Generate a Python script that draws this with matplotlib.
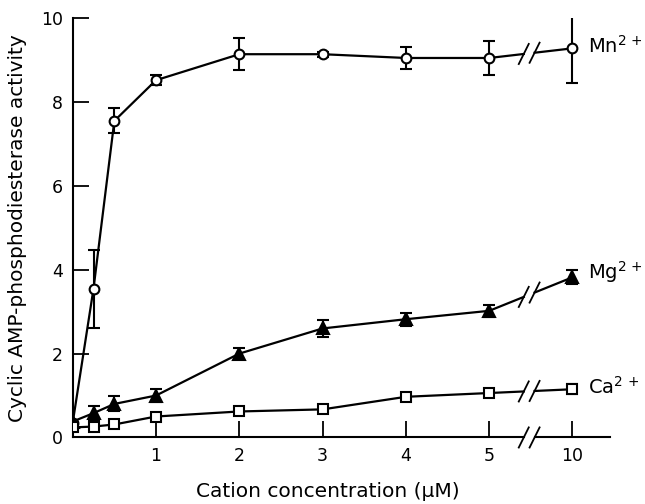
import matplotlib
matplotlib.use("Agg")
import matplotlib.pyplot as plt
import numpy as np

plt.rcParams['font.family'] = ['DejaVu Sans']
plt.rcParams['mathtext.fontset'] = 'dejavusans'

# Concentrations (uM); 10 is drawn after an axis break
conc = [0, 0.25, 0.5, 1, 2, 3, 4, 5, 10]
tick_labels = ["1", "2", "3", "4", "5", "10"]
tick_values = [1, 2, 3, 4, 5, 10]

mn_mean = [0.35, 3.55, 7.55, 8.52, 9.14, 9.14, 9.05, 9.05, 9.28]
mn_err = [0.0, 0.93, 0.30, 0.12, 0.38, 0.06, 0.27, 0.40, 0.82]

mg_mean = [0.38, 0.58, 0.80, 1.00, 2.00, 2.60, 2.82, 3.02, 3.82]
mg_err = [0.0, 0.18, 0.18, 0.16, 0.14, 0.21, 0.15, 0.15, 0.17]

ca_mean = [0.24, 0.26, 0.31, 0.50, 0.62, 0.67, 0.97, 1.06, 1.15]
ca_err = [0.0, 0.0, 0.0, 0.0, 0.0, 0.0, 0.10, 0.08, 0.12]

yticks = [0, 2, 4, 6, 8, 10]


def pos(c):
    # map concentration to plotting position (break between 5 and 10)
    return c if c <= 5 else 6.0


BREAK = 5.48
GAP = 0.065

fig = plt.figure(figsize=(6.45, 5.04), dpi=100)
ax = fig.add_axes([0.1127, 0.132, 0.833, 0.832])

xp = np.array([pos(c) for c in conc])
lw = 1.6


def draw_series(mean, err, marker, mfc, ms):
    mean = np.array(mean)
    n5 = 8  # points up to concentration 5
    ax.plot(xp[:n5], mean[:n5], color='black', lw=lw, zorder=2)
    # segment 5 -> 10 with break
    x0, x1 = xp[n5 - 1], xp[n5]
    y0, y1 = mean[n5 - 1], mean[n5]
    def yat(x):
        return y0 + (y1 - y0) * (x - x0) / (x1 - x0)
    xa = BREAK - GAP
    xb = BREAK + GAP
    ax.plot([x0, xa], [y0, yat(xa)], color='black', lw=lw, zorder=2)
    ax.plot([xb, x1], [yat(xb), y1], color='black', lw=lw, zorder=2)
    for cx in (xa, xb):
        cy = yat(cx)
        ax.plot([cx - 0.06, cx + 0.06], [cy - 0.24, cy + 0.24],
                color='black', lw=1.3, zorder=2)
    ax.errorbar(xp, mean, yerr=err, fmt='none', ecolor='black',
                elinewidth=1.5, capsize=4, capthick=1.5, zorder=3)
    ax.plot(xp, mean, linestyle='none', marker=marker, mfc=mfc,
            mec='black', mew=1.5, ms=ms, zorder=4)


draw_series(mn_mean, mn_err, 'o', 'white', 7)
draw_series(mg_mean, mg_err, '^', 'black', 8)
draw_series(ca_mean, ca_err, 's', 'white', 6.5)

ax.set_xlim(0, 6.45)
ax.set_ylim(0, 10)

ax.spines['top'].set_visible(False)
ax.spines['right'].set_visible(False)
ax.spines['bottom'].set_visible(False)
ax.spines['left'].set_linewidth(1.5)

# bottom axis line with break
ax.plot([0, BREAK - GAP], [0, 0], color='black', lw=1.5, clip_on=False, zorder=5)
ax.plot([BREAK + GAP, 6.45], [0, 0], color='black', lw=1.5, clip_on=False, zorder=5)
for cx in (BREAK - GAP, BREAK + GAP):
    ax.plot([cx - 0.06, cx + 0.06], [-0.24, 0.24], color='black', lw=1.3,
            clip_on=False, zorder=5)

ax.set_xticks([pos(v) for v in tick_values])
ax.set_xticklabels(tick_labels)
ax.set_yticks(yticks)
ax.set_yticklabels([str(v) for v in yticks])
ax.tick_params(axis='both', direction='in', length=11.5, width=1.3,
               labelsize=12.5)
ax.tick_params(axis='x', pad=7)
ax.tick_params(axis='y', pad=7)

ax.set_ylabel("Cyclic AMP-phosphodiesterase activity", fontsize=14.5)
ax.yaxis.set_label_coords(-0.085, 0.5)
ax.set_xlabel("Cation concentration (\u03bcM)", fontsize=14.5)
ax.xaxis.set_label_coords(0.475, -0.105)

ax.text(6.19, mn_mean[-1] + 0.05, "Mn$^{2\\,+}$", fontsize=14, ha='left', va='center')
ax.text(6.19, mg_mean[-1] + 0.13, "Mg$^{2\\,+}$", fontsize=14, ha='left', va='center')
ax.text(6.19, ca_mean[-1] + 0.05, "Ca$^{2\\,+}$", fontsize=14, ha='left', va='center')

fig.savefig("out.png", dpi=100)
